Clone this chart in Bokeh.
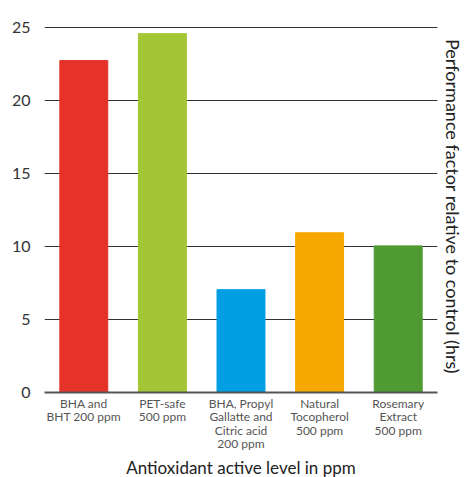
from bokeh.plotting import figure
from bokeh.models import ColumnDataSource, LinearAxis, Range1d, FixedTicker, Title
from bokeh.embed import file_html
from bokeh.resources import INLINE

categories = [
    "BHA and\nBHT 200 ppm",
    "PET-safe\n500 ppm",
    "BHA, Propyl\nGallatte and\nCitric acid\n200 ppm",
    "Natural\nTocopherol\n500 ppm",
    "Rosemary\nExtract\n500 ppm",
]
values = [22.75, 24.6, 7.05, 10.95, 10.05]
colors = ["#E6332A", "#A3C636", "#009FE3", "#F6A800", "#509A32"]
y_ticks = [0, 5, 10, 15, 20, 25]
x_title = "Antioxidant active level in ppm"
y_title = "Performance factor relative to control (hrs)"

FONT = "Lato"

src = ColumnDataSource(dict(cat=categories, val=values, color=colors))

p = figure(x_range=categories, y_range=Range1d(0, 25.5),
           width=474, height=477, output_backend="svg", toolbar_location=None,
           min_border_left=44, min_border_right=37, min_border_top=20,
           min_border_bottom=82)
p.outline_line_color = None
p.vbar(x="cat", top="val", width=0.61, color="color", source=src)

p.xgrid.grid_line_color = None
p.ygrid.ticker = FixedTicker(ticks=y_ticks[1:])
p.ygrid.grid_line_color = "#333333"
p.ygrid.grid_line_width = 1

ya = p.yaxis[0]
ya.ticker = FixedTicker(ticks=y_ticks)
ya.axis_line_color = None
ya.major_tick_line_color = None
ya.minor_tick_line_color = None
ya.major_label_text_font = FONT
ya.major_label_text_font_size = "16px"
ya.major_label_text_color = "#333333"
ya.major_label_standoff = 8

xa = p.xaxis[0]
xa.axis_line_color = "#555555"
xa.axis_line_width = 2
xa.major_tick_line_color = None
xa.minor_tick_line_color = None
xa.major_label_text_font = FONT
xa.major_label_text_font_size = "12px"
xa.major_label_text_line_height = 0.9
xa.major_label_text_color = "#555555"
xa.major_label_standoff = -3

p.add_layout(Title(text=x_title, align="center", standoff=0, offset=10,
                   text_font=FONT, text_font_size="17px", text_line_height=1.0,
                   text_font_style="normal", text_color="#222222"), "below")

ra = LinearAxis(axis_label=y_title,
                ticker=FixedTicker(ticks=[]), axis_line_color=None,
                major_tick_line_color=None, minor_tick_line_color=None,
                major_label_text_font_size="0px")
ra.axis_label_text_font = FONT
ra.axis_label_text_font_style = "normal"
ra.axis_label_text_font_size = "18px"
ra.axis_label_text_color = "#222222"
ra.axis_label_standoff = 4
p.add_layout(ra, "right")

open("out.html", "w").write(file_html(p, INLINE))
